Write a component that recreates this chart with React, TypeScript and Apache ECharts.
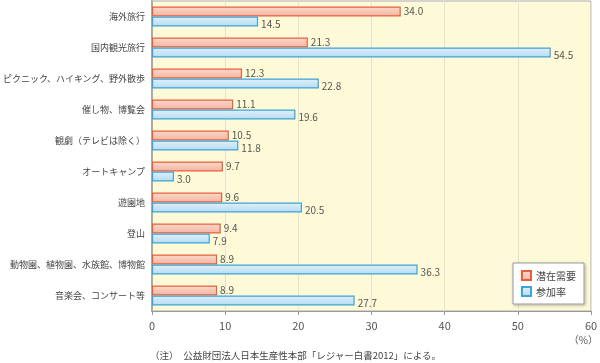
import React, { useEffect, useRef } from "react";
import * as echarts from "echarts";

const categories = [
  "海外旅行",
  "国内観光旅行",
  "ピクニック、ハイキング、野外散歩",
  "催し物、博覧会",
  "観劇（テレビは除く）",
  "オートキャンプ",
  "遊園地",
  "登山",
  "動物園、植物園、水族館、博物館",
  "音楽会、コンサート等",
];
const latentDemand = [34.0, 21.3, 12.3, 11.1, 10.5, 9.7, 9.6, 9.4, 8.9, 8.9];
const participation = [14.5, 54.5, 22.8, 19.6, 11.8, 3.0, 20.5, 7.9, 36.3, 27.7];
const xTicks = { min: 0, max: 60, interval: 10 };
const seriesNames = ["潜在需要", "参加率"];
const footnote = "（注）　公益財団法人日本生産性本部「レジャー白書2012」による。";
const unitLabel = "（%）";

const FONT = "'Noto Sans CJK JP', 'Noto Sans', sans-serif";

export default function App() {
  const ref = useRef<HTMLDivElement>(null);
  useEffect(() => {
    if (!ref.current) return;
    const chart = echarts.init(ref.current, undefined, { renderer: "svg" });
    const redFill = new echarts.graphic.LinearGradient(0, 0, 0, 1, [
      { offset: 0, color: "#FBD7CA" },
      { offset: 1, color: "#F4B6A2" },
    ]);
    const blueFill = new echarts.graphic.LinearGradient(0, 0, 0, 1, [
      { offset: 0, color: "#DDEFFB" },
      { offset: 1, color: "#B9DCF3" },
    ]);
    const labelStyle = (dy: number) => ({
      show: true,
      position: "right" as const,
      distance: 3,
      offset: [0, dy],
      color: "#555",
      fontSize: 10,
      lineHeight: 9,
      fontFamily: FONT,
      formatter: (p: any) => Number(p.value).toFixed(1),
    });
    chart.setOption({
      animation: false,
      textStyle: { fontFamily: FONT },
      grid: {
        left: 152,
        right: 9,
        top: 1,
        bottom: 52,
        containLabel: false,
        outerBoundsMode: "none",
        show: true,
        backgroundColor: "#FEFAD8",
        borderColor: "#AAAAAA",
        borderWidth: 1,
      },
      legend: {
        orient: "vertical",
        right: 16,
        top: 263,
        data: seriesNames,
        backgroundColor: "#fff",
        borderColor: "#999",
        borderWidth: 1,
        shadowBlur: 3,
        shadowColor: "rgba(0,0,0,0.3)",
        shadowOffsetX: 1,
        shadowOffsetY: 1,
        padding: [7, 8, 7, 8],
        itemWidth: 9,
        itemHeight: 9,
        itemGap: 5,
        icon: "rect",
        textStyle: { fontSize: 10, color: "#444", fontFamily: FONT },
      },
      xAxis: {
        type: "value",
        min: xTicks.min,
        max: xTicks.max,
        interval: xTicks.interval,
        axisLine: { show: true, lineStyle: { color: "#999", width: 1 } },
        axisTick: { show: true, length: 4, lineStyle: { color: "#999" } },
        axisLabel: { color: "#555", fontSize: 11, margin: 8, fontFamily: FONT },
        splitLine: { show: true, lineStyle: { color: "#E4E2D0", width: 1 } },
      },
      yAxis: {
        type: "category",
        data: categories,
        inverse: true,
        axisLine: { show: true, lineStyle: { color: "#AAAAAA", width: 2 } },
        axisTick: { show: false },
        axisLabel: { color: "#444", fontSize: 9, margin: 7, fontFamily: FONT },
        splitLine: { show: false },
      },
      series: [
        {
          name: seriesNames[0],
          type: "bar",
          data: latentDemand,
          barWidth: 10,
          barGap: "0%",
          itemStyle: { color: redFill, borderColor: "#E5603C", borderWidth: 1.2 },
          label: labelStyle(-1.5),
        },
        {
          name: seriesNames[1],
          type: "bar",
          data: participation,
          barWidth: 10,
          barGap: "0%",
          itemStyle: { color: blueFill, borderColor: "#3DA3D8", borderWidth: 1.2 },
          label: labelStyle(1.5),
        },
      ],
      graphic: [
        {
          type: "text",
          left: 150,
          top: 350,
          style: { text: footnote, fill: "#444", font: `9.5px ${FONT}` },
        },
        {
          type: "text",
          right: 2,
          top: 334,
          style: { text: unitLabel, fill: "#555", font: `10px ${FONT}` },
        },
      ],
    });
    return () => chart.dispose();
  }, []);
  return (
    <div
      ref={ref}
      style={{ position: "fixed", left: 0, top: 0, width: 600, height: 363 }}
    />
  );
}
